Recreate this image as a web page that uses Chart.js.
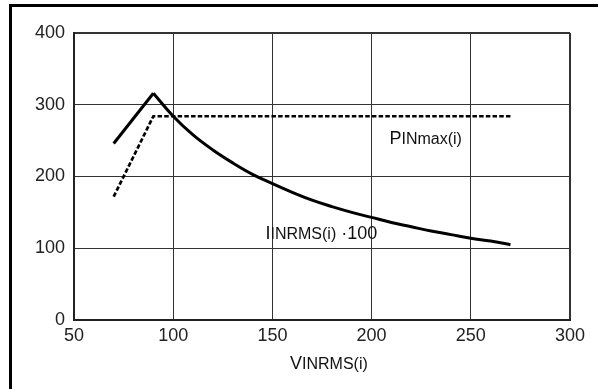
<!DOCTYPE html>
<html lang="en">
<head>
    <meta charset="UTF-8">
    <title>Chart</title>
    <style>
        body {
            margin: 0;
            padding: 0;
            background: #fff;
        }
    </style>
    <script src="https://cdn.jsdelivr.net/npm/chart.js@4/dist/chart.umd.min.js"></script>
</head>
<body>
<div>
    <canvas id="chart" width="598" height="389"></canvas>
</div>
<script>
    // input rms current * 100 (solid)
    var vinCurrent = [70, 90, 100, 110, 120, 130, 140, 150, 160, 170, 180, 190, 200, 210, 220, 230, 240, 250, 260, 270];
    var iinCurrent = [246, 316, 284, 258, 237, 219, 203, 190, 178, 167, 158, 150, 143, 136, 130, 124, 119, 114, 110, 105];
    // max input power (dashed)
    var vinPower = [70, 90, 270];
    var pinMax = [172, 284, 284];

    var xTicks = [50, 100, 150, 200, 250, 300];
    var yTicks = [0, 100, 200, 300, 400];

    function toPoints(xs, ys) {
        var pts = [];
        for (let i = 0; i < xs.length; i++) pts.push({ x: xs[i], y: ys[i] });
        return pts;
    }

    // draws text where pieces have different font sizes
    function drawParts(ctx, x, y, parts) {
        ctx.textBaseline = 'alphabetic';
        ctx.textAlign = 'left';
        for (let p of parts) {
            ctx.font = p[1] + 'px "Liberation Sans", Arial, sans-serif';
            ctx.fillText(p[0], x, y);
            x += ctx.measureText(p[0]).width;
        }
    }

    var frame = {
        id: 'frame',
        beforeDraw: function(chart) {
            var ctx = chart.ctx;
            ctx.save();
            ctx.fillStyle = '#fff';
            ctx.fillRect(0, 0, chart.width, chart.height);
            ctx.fillStyle = '#000';
            ctx.fillRect(9, 4, 3, chart.height - 4);
            ctx.fillRect(9, 4, chart.width - 9, 3);
            ctx.restore();
        },
        afterDraw: function(chart) {
            var ctx = chart.ctx, xs = chart.scales.x, ys = chart.scales.y;
            ctx.save();
            ctx.fillStyle = '#111';
            drawParts(ctx, xs.getPixelForValue(209), ys.getPixelForValue(245), [['P', 18], ['INmax(i)', 16]]);
            drawParts(ctx, xs.getPixelForValue(146.5), ys.getPixelForValue(113), [['I', 18], ['INRMS(i)', 16], [' \u00b7100', 18]]);
            drawParts(ctx, 290, 369, [['V', 18], ['INRMS(i)', 16]]);
            ctx.restore();
        }
    };

    var edgeWidth = function(c) {
        var t = c.tick;
        if (!t) return 1;
        return (t.value === c.scale.min || t.value === c.scale.max) ? 2 : 1;
    };

    var line = { borderColor: '#000', pointRadius: 0 };

    new Chart(document.getElementById('chart'), {
        type: 'line',
        data: {
            datasets: [
                // rising part, straight
                Object.assign({ data: toPoints(vinCurrent.slice(0, 2), iinCurrent.slice(0, 2)), borderWidth: 3, tension: 0 }, line),
                // falling part, smooth
                Object.assign({ data: toPoints(vinCurrent.slice(1), iinCurrent.slice(1)), borderWidth: 3, tension: 0.4 }, line),
                Object.assign({ data: toPoints(vinPower, pinMax), borderWidth: 2.7, borderDash: [4.5, 2.2], tension: 0 }, line)
            ]
        },
        options: {
            responsive: false,
            animation: false,
            layout: { padding: { top: 33, right: 28, left: 0, bottom: 0 } },
            plugins: { legend: { display: false }, tooltip: { enabled: false } },
            scales: {
                x: {
                    type: 'linear',
                    min: 50, max: 300,
                    afterBuildTicks: function(s) { s.ticks = xTicks.map(v => ({ value: v })); },
                    afterFit: function(s) { s.height = 69; },
                    grid: { color: '#333', lineWidth: edgeWidth, tickLength: 0 },
                    border: { color: '#222', width: 2 },
                    ticks: { color: '#222', padding: 5, font: { size: 18, family: '"Liberation Sans", Arial' }, maxRotation: 0 }
                },
                y: {
                    min: 0, max: 400,
                    afterBuildTicks: function(s) { s.ticks = yTicks.map(v => ({ value: v })); },
                    afterFit: function(s) { s.width = 74; },
                    grid: { color: '#333', lineWidth: edgeWidth, tickLength: 0 },
                    border: { color: '#222', width: 2 },
                    ticks: { color: '#222', padding: 9, font: { size: 18, family: '"Liberation Sans", Arial' } }
                }
            }
        },
        plugins: [frame]
    });
</script>
</body>
</html>
